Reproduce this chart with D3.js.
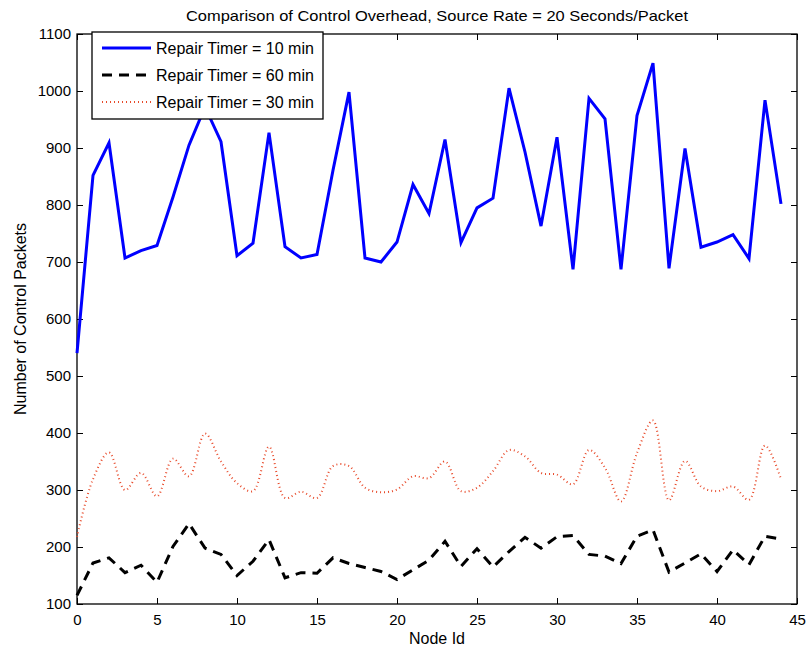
<!DOCTYPE html>
<html>
<head>
<meta charset="utf-8">
<script src="https://cdn.jsdelivr.net/npm/d3@7"></script>
<style>
  body { margin: 0; background: #fff; }
  svg text { font-family: "Liberation Sans", Arial, sans-serif; fill: #000; }
</style>
</head>
<body>
<div id="chart"></div>
<script>
// node ids 0..44
var nodeIds = d3.range(0, 45);

var timer10 = [540, 852, 909, 707, 720, 729, 814, 905, 972, 911,
               711, 733, 927, 727, 707, 713, 861, 998, 707, 700,
               735, 836, 785, 915, 734, 795, 812, 1005, 893, 763,
               919, 687, 987, 951, 687, 957, 1049, 689, 899, 726,
               735, 748, 706, 984, 802];

var timer60 = [115, 172, 181, 155, 168, 138, 201, 241, 198, 187,
               150, 175, 213, 146, 155, 154, 181, 171, 164, 157,
               143, 160, 177, 210, 166, 197, 165, 192, 217, 198,
               218, 220, 187, 184, 171, 219, 230, 156, 172, 188,
               157, 195, 169, 219, 214];

var timer30 = [218, 319, 366, 300, 330, 289, 355, 324, 399, 350,
               312, 298, 376, 286, 297, 286, 342, 342, 304, 296,
               301, 324, 321, 350, 298, 304, 333, 370, 359, 330,
               327, 310, 370, 339, 280, 365, 422, 282, 351, 306,
               298, 306, 283, 378, 319];

var xTicks = [0, 5, 10, 15, 20, 25, 30, 35, 40, 45];
var yTicks = [100, 200, 300, 400, 500, 600, 700, 800, 900, 1000, 1100];

var series = [
  {name: "Repair Timer = 10 min", values: timer10, color: "#0000ff", width: 3, dash: null, curve: d3.curveLinear},
  {name: "Repair Timer = 60 min", values: timer60, color: "#000000", width: 3, dash: "10,7", curve: d3.curveLinear},
  {name: "Repair Timer = 30 min", values: timer30, color: "#e84a2a", width: 2, dash: "1,3", curve: d3.curveCatmullRom}
];

var margin = {top: 34, right: 11, bottom: 47, left: 77};
var W = 808, H = 651;
var width = W - margin.left - margin.right;
var height = H - margin.top - margin.bottom;

var svg = d3.select("#chart").append("svg")
  .attr("width", W)
  .attr("height", H);

var g = svg.append("g")
  .attr("transform", "translate(" + margin.left + "," + margin.top + ")");

var x = d3.scaleLinear().domain([0, 45]).range([0, width]);
var y = d3.scaleLinear().domain([100, 1100]).range([height, 0]);

// axes, ticks pointing inward (matlab style)
var xAxis = d3.axisBottom(x).tickValues(xTicks).tickFormat(d3.format("d"))
  .tickSizeInner(-6).tickSizeOuter(0).tickPadding(10);
var yAxis = d3.axisLeft(y).tickValues(yTicks).tickFormat(d3.format("d"))
  .tickSizeInner(-6).tickSizeOuter(0).tickPadding(6);

g.append("g").attr("class", "x axis")
  .attr("transform", "translate(0," + height + ")")
  .call(xAxis);
g.append("g").attr("class", "y axis").call(yAxis);
g.append("g").attr("class", "x2 axis")
  .call(d3.axisTop(x).tickValues(xTicks).tickSizeInner(-6).tickSizeOuter(0).tickFormat(""));
g.append("g").attr("class", "y2 axis")
  .attr("transform", "translate(" + width + ",0)")
  .call(d3.axisRight(y).tickValues(yTicks).tickSizeInner(-6).tickSizeOuter(0).tickFormat(""));

g.selectAll(".axis .domain").remove();
g.selectAll(".axis text").style("font-size", "15px");
g.selectAll(".axis line").attr("stroke", "#000");

g.append("rect")
  .attr("width", width)
  .attr("height", height)
  .attr("fill", "none")
  .attr("stroke", "#000")
  .attr("stroke-width", 1.3);

// lines
series.forEach(function(s) {
  var line = d3.line()
    .x(function(d, i) { return x(nodeIds[i]); })
    .y(function(d) { return y(d); })
    .curve(s.curve);
  g.append("path")
    .datum(s.values)
    .attr("fill", "none")
    .attr("stroke", s.color)
    .attr("stroke-width", s.width)
    .attr("stroke-dasharray", s.dash)
    .attr("d", line);
});

// legend
var legend = g.append("g").attr("transform", "translate(15,-2)");
legend.append("rect")
  .attr("width", 231)
  .attr("height", 87)
  .attr("fill", "#fff")
  .attr("stroke", "#000")
  .attr("stroke-width", 1.3);

series.forEach(function(s, i) {
  var ly = 16 + i * 27;
  legend.append("line")
    .attr("x1", 10).attr("x2", 59)
    .attr("y1", ly).attr("y2", ly)
    .attr("stroke", s.color)
    .attr("stroke-width", s.width)
    .attr("stroke-dasharray", s.dash);
  legend.append("text")
    .attr("x", 64)
    .attr("y", ly)
    .attr("dy", "0.35em")
    .style("font-size", "16px")
    .text(s.name);
});

// title and axis labels
svg.append("text")
  .attr("x", margin.left + width / 2)
  .attr("y", 21)
  .attr("text-anchor", "middle")
  .style("font-size", "15px")
  .attr("textLength", 502)
  .attr("lengthAdjust", "spacingAndGlyphs")
  .text("Comparison of Control Overhead, Source Rate = 20 Seconds/Packet");

svg.append("text")
  .attr("x", margin.left + width / 2)
  .attr("y", 644)
  .attr("text-anchor", "middle")
  .style("font-size", "16px")
  .text("Node Id");

svg.append("text")
  .attr("transform", "translate(26," + (margin.top + height / 2) + ") rotate(-90)")
  .attr("text-anchor", "middle")
  .style("font-size", "16px")
  .text("Number of Control Packets");
</script>
</body>
</html>
